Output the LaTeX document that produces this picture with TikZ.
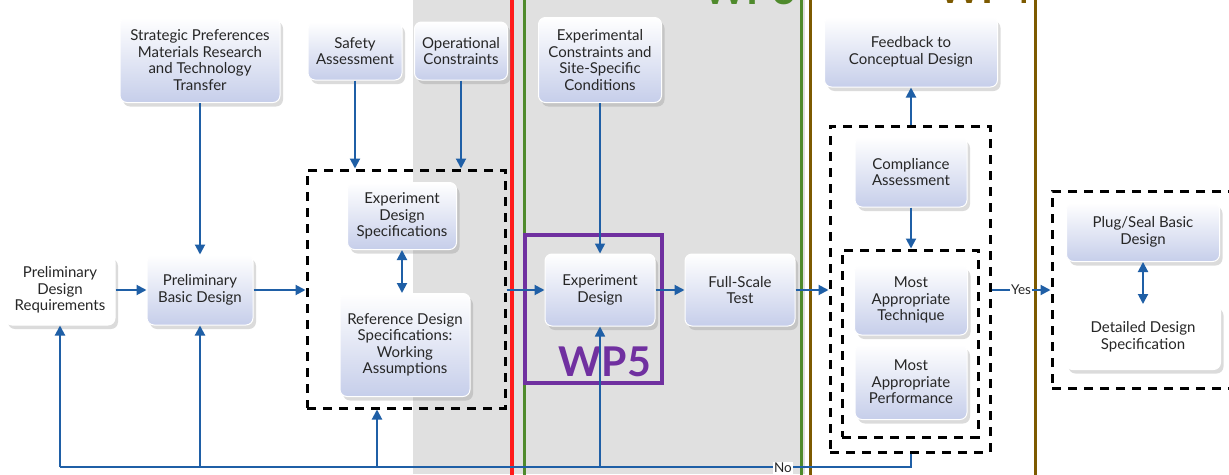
\documentclass[tikz,border=0pt]{standalone}
\usepackage{fontspec}
\setmainfont{Lato}
\usetikzlibrary{arrows.meta,shadows}
\definecolor{boxblue}{HTML}{C6CEEA}
\definecolor{linkblue}{HTML}{1F5FA6}
\definecolor{wpred}{HTML}{FF1A1A}
\definecolor{wpgreen}{HTML}{4F8A2C}
\definecolor{wpgold}{HTML}{7D5A00}
\definecolor{wppurple}{HTML}{7030A0}
\definecolor{bandgray}{HTML}{E0E0E0}
\definecolor{txt}{HTML}{262626}
\tikzset{
  basebox/.style={draw=white, line width=1pt, rounded corners=7pt, align=center,
    text=txt, inner sep=2pt, font=\fontsize{15}{16.5}\selectfont,
    drop shadow={shadow xshift=3pt, shadow yshift=-4pt, opacity=0.28}},
  gbox/.style={basebox, top color=white, bottom color=boxblue},
  wbox/.style={basebox, fill=white},
  dbox/.style={draw=black, line width=3pt, dash pattern=on 9pt off 7pt, inner sep=0pt},
  conn/.style={draw=linkblue, line width=2pt},
  arr/.style={conn, -{Triangle[length=10pt,width=10pt]}},
  darr/.style={conn, {Triangle[length=10pt,width=10pt]}-{Triangle[length=10pt,width=10pt]}},
  wplabel/.style={font=\fontsize{41}{41}\selectfont\bfseries, inner sep=0pt},
  tag/.style={fill=white, inner sep=1.5pt, text=txt, font=\fontsize{13.5}{14}\selectfont}
}
\begin{document}
\begin{tikzpicture}[x=1pt,y=-1pt]
\useasboundingbox (0,0) rectangle (1229,474);
\clip (0,0) rectangle (1229,474);
\fill[white] (0,0) rectangle (1229,474);

% work package bands
\fill[bandgray] (413,0) rectangle (805,474);
\draw[wpred, line width=4pt] (512,-5) -- (512,480);
\draw[wpgreen, line width=3pt] (524,-5) -- (524,480);
\draw[wpgreen, line width=3pt] (801,-5) -- (801,480);
\draw[wpgold, line width=3pt] (810,-5) -- (810,480);
\draw[wpgold, line width=3pt] (1035,-5) -- (1035,480);
\node[wplabel, text=wpgreen, anchor=base] (wp3) at (750,4) {WP3};
\node[wplabel, text=wpgold, anchor=base] (wp4) at (985,3.5) {WP4};
\draw[wppurple, line width=4pt] (525,235) rectangle (662,383);
\node[wplabel, text=wppurple] (wp5) at (605,362) {WP5};

% dashed groups
\node[dbox, minimum width=198pt, minimum height=238pt] (d1) at (406,289) {};
\node[dbox, minimum width=160pt, minimum height=326pt] (d2) at (910,289) {};
\node[dbox, minimum width=136pt, minimum height=187pt] (d3) at (910,343.5) {};
\node[dbox, minimum width=210pt, minimum height=197pt] (d4) at (1157,289.5) {};

% boxes
\node[gbox, minimum width=160pt, minimum height=85pt] (strat) at (200,60)
  {Strategic Preferences\\Materials Research\\and Technology\\Transfer};
\node[gbox, minimum width=94pt, minimum height=58pt] (safety) at (355,51) {Safety\\Assessment};
\node[gbox, minimum width=93pt, minimum height=58pt] (oper) at (461,51) {Operational\\Constraints};
\node[gbox, minimum width=123pt, minimum height=85pt] (expc) at (600,60)
  {Experimental\\Constraints and\\Site-Specific\\Conditions};
\node[gbox, minimum width=173pt, minimum height=70pt] (feed) at (911,52) {Feedback to\\Conceptual Design};
\node[wbox, minimum width=110pt, minimum height=70pt] (preq) at (60,290) {Preliminary\\Design\\Requirements};
\node[gbox, minimum width=106pt, minimum height=70pt] (pbd) at (200,290) {Preliminary\\Basic Design};
\node[gbox, minimum width=109pt, minimum height=67pt] (eds) at (402,216) {Experiment\\Design\\Specifications};
\node[gbox, minimum width=130pt, minimum height=103pt] (rds) at (405,345)
  {Reference Design\\Specifications:\\Working\\Assumptions};
\node[gbox, minimum width=110pt, minimum height=72pt] (ed) at (600,290) {Experiment\\Design};
\node[gbox, minimum width=110pt, minimum height=72pt] (fst) at (740,290) {Full-Scale\\Test};
\node[gbox, minimum width=112pt, minimum height=70pt] (comp) at (911,172) {Compliance\\Assessment};
\node[gbox, minimum width=113pt, minimum height=70pt] (mat) at (911,300) {Most\\Appropriate\\Technique};
\node[gbox, minimum width=112pt, minimum height=75pt] (map) at (911,382) {Most\\Appropriate\\Performance};
\node[gbox, minimum width=153pt, minimum height=59pt] (plug) at (1143,232) {Plug/Seal Basic\\Design};
\node[wbox, minimum width=155pt, minimum height=65pt] (dds) at (1143,337) {Detailed Design\\Specification};

% forward flow
\draw[arr] (strat) -- (pbd);
\draw[arr] (safety) -- (safety |- d1.north);
\draw[arr] (oper) -- (oper |- d1.north);
\draw[arr] (preq) -- (pbd);
\draw[arr] (pbd.east) -- (pbd -| d1.west);
\draw[darr] (eds.south) -- (eds.south |- rds.north);
\draw[arr] (d1.east |- ed) -- (ed.west);
\draw[arr, line width=1.5pt] (expc) -- (ed);
\draw[arr] (ed) -- (fst);
\draw[arr] (fst.east) -- (fst -| d2.west);
\draw[arr] (d2.east |- fst) -- node[tag] (yes) {Yes} (fst -| d4.west);
\draw[arr] (feed.south |- d2.north) -- (feed.south);
\draw[arr] (comp) -- (comp |- d3.north);
\draw[darr] (plug) -- (dds);

% feedback loop along the bottom
\coordinate (fb) at (911,467);
\coordinate (rdsin) at (377,467);
\draw[conn] (feed.south |- d2.south) -- (fb) -- (preq |- fb);
\draw[arr] (preq |- fb) -- (preq.south);
\draw[arr] (pbd |- fb) -- (pbd.south);
\draw[arr] (rdsin) -- (rdsin |- d1.south);
\draw[arr, line width=1.5pt] (ed |- fb) -- (ed.south);
\node[tag] (no) at (783,468) {No};
\end{tikzpicture}
\end{document}
